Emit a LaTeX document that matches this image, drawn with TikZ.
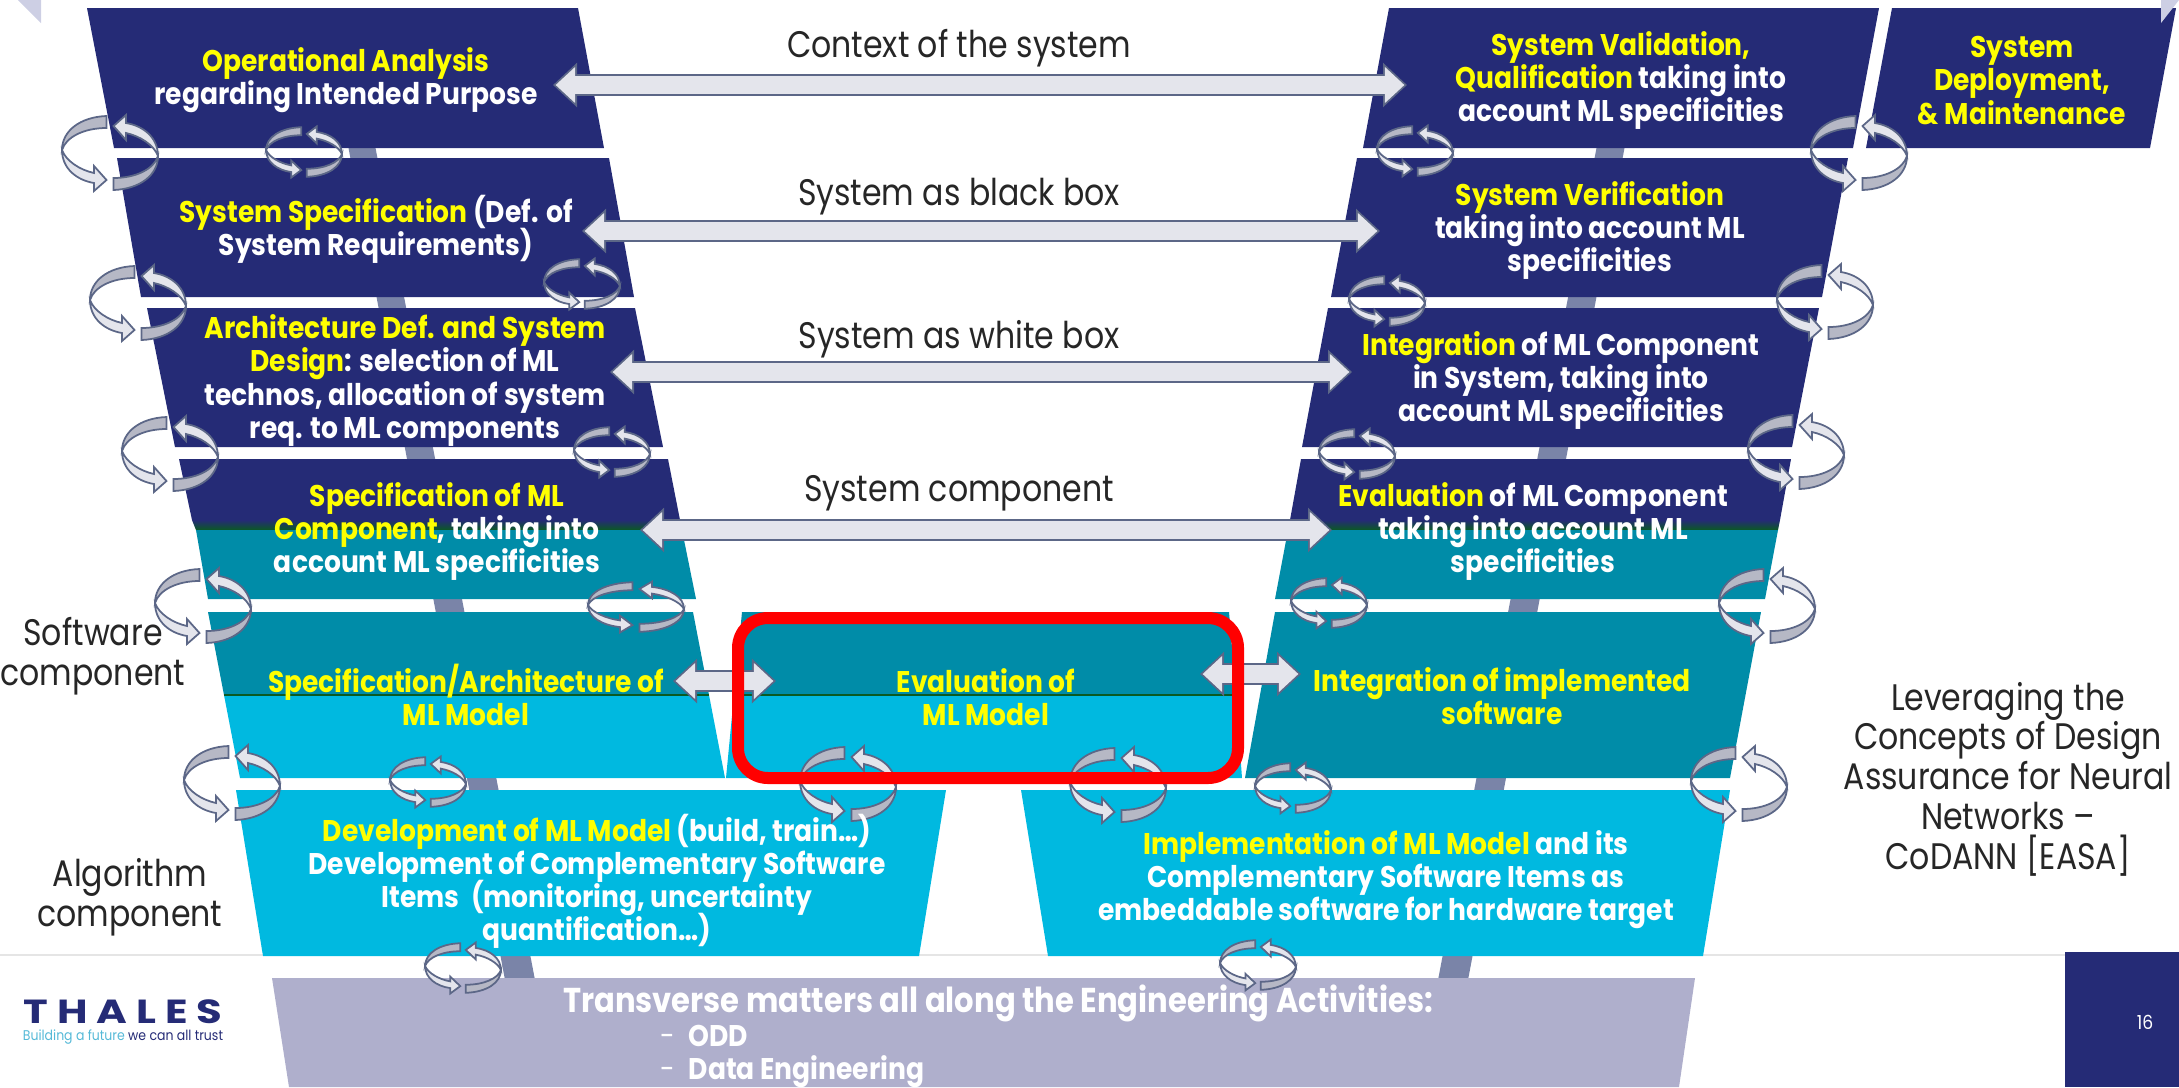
\documentclass[tikz,border=0pt]{standalone}
\usepackage{fontspec}
\usepackage{tikz}
\usepackage{xcolor}
\usetikzlibrary{arrows.meta}
\setmainfont[FakeStretch=0.888]{Poppins}
\newfontfamily\lblfont[FakeStretch=0.855]{Poppins}
\newfontfamily\logofont[LetterSpace=27,FakeStretch=1.25]{Poppins}
\lineskiplimit=-20pt
\definecolor{navybox}{RGB}{37, 43, 118}
\definecolor{tealbox}{RGB}{0, 140, 168}
\definecolor{cyanbox}{RGB}{0, 185, 224}
\definecolor{stripegreen}{RGB}{10, 90, 35}
\definecolor{transbox}{RGB}{175, 175, 204}
\definecolor{pillarblue}{RGB}{122, 132, 168}
\definecolor{cornerlilac}{RGB}{205, 207, 228}
\definecolor{arrowline}{RGB}{92, 103, 135}
\definecolor{arrowfill}{RGB}{228, 229, 236}
\definecolor{bandgrey}{RGB}{182, 184, 197}
\definecolor{yellowtext}{RGB}{255, 255, 0}
\definecolor{logoblue}{RGB}{85, 185, 215}
\newcommand{\yel}[1]{\textcolor{yellowtext}{#1}}
\newcommand{\halfcycle}{
    \filldraw[draw=arrowline,fill=arrowfill,line width=.5pt] (-48,-3) .. controls (-48,15) and (-34,27) .. (-16,30)
      -- (-16,38) -- (-3.5,27) -- (-16,13) -- (-16,20) .. controls (-30,17) and (-44,8) .. (-48,-3) -- cycle;
    \filldraw[draw=arrowline,fill=bandgrey,line width=.5pt] (-3.5,-37) .. controls (-30,-36) and (-48,-22) .. (-48,-3)
      .. controls (-44,-16) and (-26,-25) .. (-3.5,-25) -- cycle;
}
\tikzset{
  boxtext/.style={font=\fontsize{8.5}{9.4}\selectfont\bfseries, text=white, align=center, inner sep=0pt, yshift=-.015cm},
  sidetext/.style={font=\lblfont\fontsize{10.5}{11.3}\selectfont, text=black!85, align=center, inner sep=0pt, yshift=-.04cm},
  flowarrow/.style={arrowline, line width=2.2mm,
    {Triangle[length=2.4mm,width=4.3mm]}-{Triangle[length=2.4mm,width=4.3mm]},
    postaction={draw=arrowfill, line width=1.85mm,
      {Triangle[length=1.96mm,width=3.5mm]}-{Triangle[length=1.96mm,width=3.5mm]},
      shorten <=.26mm, shorten >=.26mm}},
  bigcycle/.style={},
  smallcycle/.style={transform shape,xscale=.79,yscale=.67},
  widecycle/.style={transform shape,yscale=.67},
  cycleicon/.pic={
    \halfcycle
    \begin{scope}[rotate=180]
      \halfcycle
    \end{scope}
  }
}
\begin{document}
\begin{tikzpicture}[x=0.01cm,y=-0.01cm]
  \useasboundingbox (0,0) rectangle (2179,1087);

  % rule and page corner
  \draw[black!10,line width=.5pt] (0,955) -- (2179,955);
  \fill[navybox] (2065,952) rectangle (2179,1087);
  \fill[cornerlilac] (18,0) -- (41,0) -- (41,23) -- cycle;

  % pillars behind the V
  \fill[pillarblue] (347,140) -- (374,140) -- (535,980) -- (505,980) -- cycle;
  \fill[pillarblue] (1598,140) -- (1626,140) -- (1468,980) -- (1438,980) -- cycle;

  % left branch
  \fill[navybox] (87,8) -- (578,8) -- (604,148) -- (114,148) -- cycle;
  \fill[navybox] (117,158) -- (609,158) -- (634,297) -- (141,297) -- cycle;
  \fill[navybox] (147,308) -- (635,308) -- (663,447) -- (175,447) -- cycle;
  \fill[navybox] (179,459) -- (668,459) -- (680,520) -- (192,520) -- cycle;
  \shade[top color=navybox,bottom color=stripegreen] (192,520) -- (680,520) -- (682,530) -- (196,530) -- cycle;
  \fill[tealbox] (196,530) -- (682,530) -- (696,599) -- (208,599) -- cycle;
  \fill[tealbox] (208,612) -- (693,612) -- (709,695) -- (224,695) -- cycle;
  \fill[cyanbox] (224,695) -- (709,695) -- (725,778) -- (240,778) -- cycle;
  \draw[stripegreen,line width=.5pt] (224,695) -- (709,695);
  \fill[cyanbox] (236,790) -- (946,790) -- (919,956) -- (263,956) -- cycle;

  % middle
  \fill[tealbox] (742,612) -- (1229,612) -- (1236,695) -- (734,695) -- cycle;
  \fill[cyanbox] (734,695) -- (1236,695) -- (1242,778) -- (726,778) -- cycle;
  \draw[stripegreen,line width=.5pt] (734,695) -- (1236,695);

  % right branch
  \fill[navybox] (1389,8) -- (1879,8) -- (1853,148) -- (1363,148) -- cycle;
  \fill[navybox] (1892,8) -- (2176,8) -- (2150,148) -- (1866,148) -- cycle;
  \fill[navybox] (1357,158) -- (1848,158) -- (1822,297) -- (1331,297) -- cycle;
  \fill[navybox] (1328,308) -- (1819,308) -- (1792,447) -- (1302,447) -- cycle;
  \fill[navybox] (1301,459) -- (1791,459) -- (1780,520) -- (1290,520) -- cycle;
  \shade[top color=navybox,bottom color=stripegreen] (1290,520) -- (1780,520) -- (1778,530) -- (1288,530) -- cycle;
  \fill[tealbox] (1288,530) -- (1778,530) -- (1765,599) -- (1275,599) -- cycle;
  \fill[tealbox] (1275,612) -- (1761,612) -- (1730,778) -- (1245,778) -- cycle;
  \fill[cyanbox] (1021,790) -- (1730,790) -- (1703,956) -- (1048,956) -- cycle;

  % transverse band
  \fill[transbox] (272,978) -- (1695,978) -- (1679,1087) -- (289,1087) -- cycle;
  \fill[cornerlilac] (2161,0) -- (2179,0) -- (2161,23) -- cycle;

  % arrow ends
  \coordinate (ctxL) at (553,85);
  \coordinate (ctxR) at (1407,85);
  \coordinate (blackL) at (582,231);
  \coordinate (blackR) at (1380,231);
  \coordinate (whiteL) at (610,372);
  \coordinate (whiteR) at (1352,372);
  \coordinate (compL) at (640,530);
  \coordinate (compR) at (1332,530);
  \coordinate (specL) at (673,681);
  \coordinate (specR) at (776,681);
  \coordinate (integL) at (1200,674);
  \coordinate (integR) at (1301,674);

  \draw[flowarrow] (ctxL) -- (ctxR);
  \draw[flowarrow] (blackL) -- (blackR);
  \draw[flowarrow] (whiteL) -- (whiteR);
  \draw[flowarrow] (compL) -- (compR);
  \draw[flowarrow] (specL) -- (specR);
  \draw[flowarrow] (integL) -- (integR);

  % cycle icons
  \pic[bigcycle] at (110,153) {cycleicon};
  \pic[smallcycle] at (304,152) {cycleicon};
  \pic[bigcycle] at (138,303) {cycleicon};
  \pic[smallcycle] at (582,284) {cycleicon};
  \pic[bigcycle] at (170,454) {cycleicon};
  \pic[smallcycle] at (612,452) {cycleicon};
  \pic[bigcycle] at (203,606) {cycleicon};
  \pic[widecycle] at (636,607) {cycleicon};
  \pic[bigcycle] at (232,783) {cycleicon};
  \pic[smallcycle] at (428,782) {cycleicon};
  \pic[smallcycle] at (463,968) {cycleicon};
  \pic[bigcycle] at (848,784) {cycleicon};
  \pic[bigcycle] at (1118,785) {cycleicon};
  \pic[smallcycle] at (1293,788) {cycleicon};
  \pic[smallcycle] at (1258,965) {cycleicon};
  \pic[smallcycle] at (1329,603) {cycleicon};
  \pic[bigcycle] at (1739,784) {cycleicon};
  \pic[bigcycle] at (1767,606) {cycleicon};
  \pic[bigcycle] at (1796,452) {cycleicon};
  \pic[bigcycle] at (1825,302) {cycleicon};
  \pic[bigcycle] at (1859,153) {cycleicon};
  \pic[smallcycle] at (1415,151) {cycleicon};
  \pic[smallcycle] at (1387,301) {cycleicon};
  \pic[smallcycle] at (1357,454) {cycleicon};

  % box texts
  \node[boxtext] (opana) at (346,79) {\yel{Operational Analysis}\\regarding Intended Purpose};
  \node[boxtext] (sysspec) at (376,228) {\yel{System Specification} (Def. of\\System Requirements)};
  \node[boxtext] (archdef) at (405,379) {\yel{Architecture Def. and System}\\\yel{Design}: selection of ML\\technos, allocation of system\\req. to ML components};
  \node[boxtext] (mlspec) at (437,530) {\yel{Specification of ML}\\\yel{Component}, taking into\\account ML specificities};
  \node[boxtext] (modelspec) at (466,693) {\yel{Specification/Architecture of}\\\yel{ML Model}};
  \node[boxtext] (modeldev) at (597,880) {\yel{Development of ML Model} (build, train…)\\Development of Complementary Software\\Items\ \ (monitoring, uncertainty\\quantification…)};
  \node[boxtext] (modeleval) at (986,696) {\yel{Evaluation of}\\\yel{ML Model}};
  \node[boxtext] (sysval) at (1621,79) {\yel{System Validation,}\\\yel{Qualification} taking into\\account ML specificities};
  \node[boxtext] (deploy) at (2022,79) {\yel{System}\\\yel{Deployment,}\\\yel{\& Maintenance}};
  \node[boxtext] (sysver) at (1590,229) {\yel{System Verification}\\taking into account ML\\specificities};
  \node[boxtext] (integ) at (1561,379) {\yel{Integration} of ML Component\\in System, taking into\\account ML specificities};
  \node[boxtext] (mleval) at (1533,530) {\yel{Evaluation} of ML Component\\taking into account ML\\specificities};
  \node[boxtext] (softinteg) at (1502,695) {\yel{Integration of implemented}\\\yel{software}};
  \node[boxtext] (implem) at (1386,878) {\yel{Implementation of ML Model} and its\\Complementary Software Items as\\embeddable software for hardware target};
  \node[boxtext,font=\fontsize{9.8}{10}\selectfont\bfseries] (transtitle) at (998,1002) {Transverse matters all along the Engineering Activities:};
  \node[boxtext,align=left,anchor=west] (translist) at (660,1055) {\makebox[.28cm][l]{\mdseries-}ODD\\\makebox[.28cm][l]{\mdseries-}Data Engineering};

  % side labels
  \node[sidetext] (lblctx) at (959,44) {Context of the system};
  \node[sidetext] (lblblack) at (959,193) {System as black box};
  \node[sidetext] (lblwhite) at (959,335) {System as white box};
  \node[sidetext] (lblcomp) at (959,489) {System component};
  \node[sidetext] (lblsoft) at (93,652) {Software\\component};
  \node[sidetext] (lblalgo) at (130,893) {Algorithm\\component};
  \node[sidetext] (lblcodann) at (2008,775) {Leveraging the\\Concepts of Design\\Assurance for Neural\\Networks –\\CoDANN [EASA]};

  % logo and page number
  \node[inner sep=0pt,text=navybox,font=\logofont\fontsize{9.5}{10}\selectfont\bfseries] (logoname) at (123,1012) {THALES};
  \node[inner sep=0pt,font=\fontsize{4}{5}\selectfont] (logotag) at (123,1037) {\textcolor{logoblue}{Building a future} \textcolor{navybox}{we can all trust}};
  \node[inner sep=0pt,text=white,font=\fontsize{5.5}{6}\selectfont] (pagenum) at (2145,1022) {16};

  % highlight
  \draw[red,line width=1.2mm,rounded corners=.3cm] (738,618) rectangle (1238,778);
\end{tikzpicture}
\end{document}
